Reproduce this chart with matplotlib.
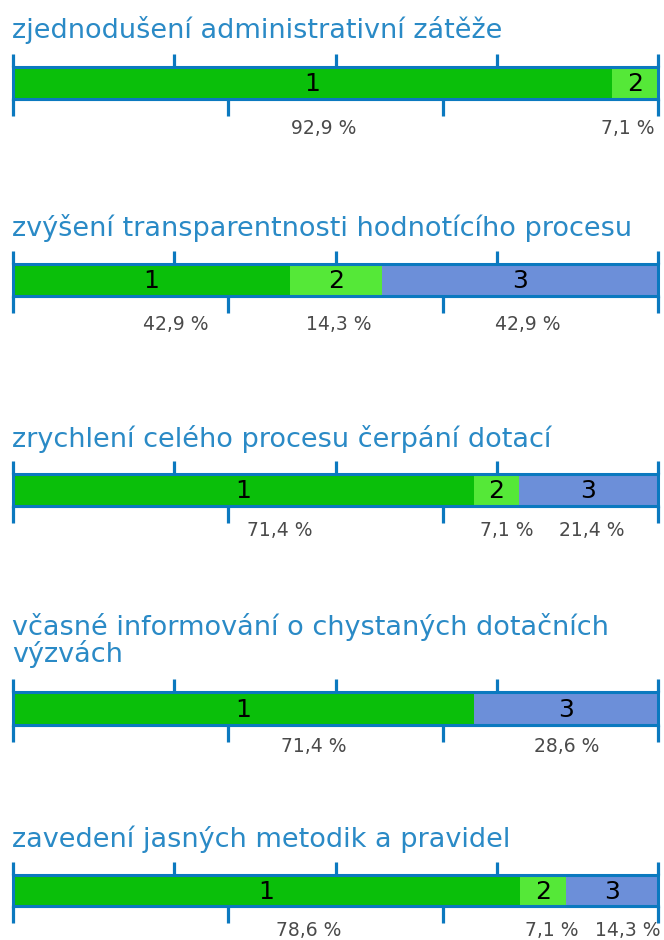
import matplotlib
matplotlib.use("Agg")
import matplotlib.pyplot as plt

# ---- data ----
titles = [
    "zjednodušení administrativní zátěže",
    "zvýšení transparentnosti hodnotícího procesu",
    "zrychlení celého procesu čerpání dotací",
    "včasné informování o chystaných dotačních\nvýzvách",
    "zavedení jasných metodik a pravidel",
]
seg1 = [92.9, 42.9, 71.4, 71.4, 78.6]
seg2 = [7.1, 14.3, 7.1, 0.0, 7.1]
seg3 = [0.0, 42.9, 21.4, 28.6, 14.3]
seg_names = ["1", "2", "3"]
top_ticks = [0, 25, 50, 75, 100]
bottom_ticks = [0, 100 / 3, 200 / 3, 100]

# ---- layout (pixels) ----
W, H = 664, 940
left_px, right_px = 13, 658
bar_top = [66.5, 263.5, 473.5, 691.5, 874.5]      # axes edge (spine centre)
bar_bot = [98.5, 295.5, 505.5, 724.5, 905.5]
title_base = [38, 236, 447, 662, 847]
label_y = [129, 324, 530, 747, 931]
# horizontal nudges (px) of the percentage labels, per panel & segment
label_dx = [[11, -7, 0], [24, 3, 7], [36, 10, 3], [70, 0, 1], [42, 9, 17]]

line_col = "#0B79BF"
title_col = "#2A8AC6"
colors = ["#0ABF0A", "#55E838", "#6C8FD9"]
label_col = "#4A4A4A"

fig = plt.figure(figsize=(W / 100, H / 100), dpi=100)
fig.patch.set_facecolor("white")

def fx(px):
    return px / W

def fy(py):
    return 1 - py / H

for i in range(len(titles)):
    vals = [seg1[i], seg2[i], seg3[i]]
    ax = fig.add_axes([fx(left_px), fy(bar_bot[i]), fx(right_px - left_px),
                       (bar_bot[i] - bar_top[i]) / H])
    ax.set_xlim(0, 100)
    ax.set_ylim(-0.5, 0.5)
    left = 0.0
    for k, v in enumerate(vals):
        if v > 0:
            ax.barh(0, v, left=left, height=1.0, color=colors[k], edgecolor="none")
            ax.text(left + v / 2, -0.06, seg_names[k], ha="center", va="center",
                    fontsize=18, color="black", family="DejaVu Sans")
            # percentage label below the bar
            cx_px = left_px + (left + v / 2) / 100 * (right_px - left_px) + label_dx[i][k]
            if cx_px > right_px - 30:
                cx_px = right_px - 30
            txt = f"{v:.1f}".replace(".", ",") + " %"
            fig.text(fx(cx_px), fy(label_y[i]), txt, ha="center", va="center",
                     fontsize=13.5, color=label_col, family="DejaVu Sans")
        left += v
    for s in ax.spines.values():
        s.set_color(line_col)
        s.set_linewidth(2.2)
    ax.set_yticks([])
    ax.xaxis.set_ticks_position("top")
    ax.set_xticks(top_ticks)
    ax.tick_params(axis="x", which="both", top=True, bottom=False, labeltop=False,
                   labelbottom=False, length=9.7, width=2.3, color=line_col,
                   direction="out")
    sec = ax.secondary_xaxis("bottom")
    sec.set_xticks(bottom_ticks)
    sec.tick_params(axis="x", length=11.9, width=2.3, color=line_col,
                    direction="out", labelbottom=False)
    sec.spines["bottom"].set_color(line_col)
    sec.spines["bottom"].set_linewidth(2.2)

    fig.text(fx(left_px - 1), fy(title_base[i]), titles[i], ha="left",
             va="baseline", fontsize=19.5, color=title_col, family="DejaVu Sans",
             linespacing=0.95)

fig.savefig("out.png", dpi=100, facecolor="white")
